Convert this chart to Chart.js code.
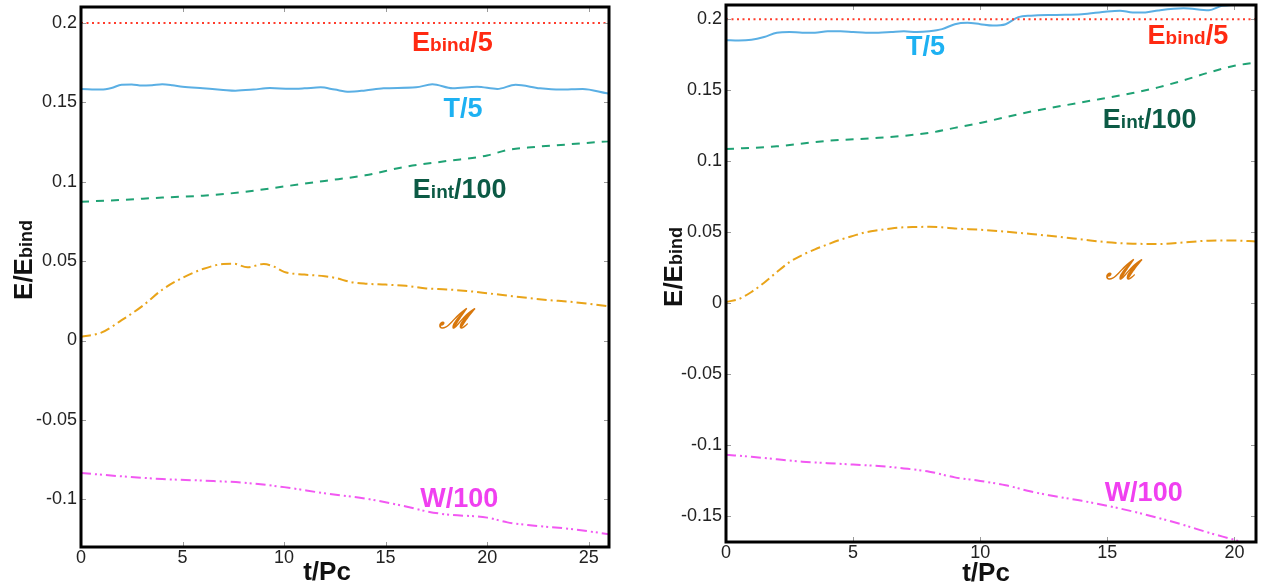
<!DOCTYPE html>
<html>
<head>
<meta charset="utf-8">
<script src="https://cdn.jsdelivr.net/npm/chart.js@4.4.0/dist/chart.umd.min.js"></script>
<style>
    html, body { margin: 0; padding: 0; background: #fff; }
    #wrap { position: relative; width: 1278px; height: 584px; }
    canvas { position: absolute; top: 0; }
    #chartLeft { left: 0; }
    #chartRight { left: 640px; }
</style>
</head>
<body>
<div id="wrap">
    <canvas id="chartLeft" width="640" height="584"></canvas>
    <canvas id="chartRight" width="638" height="584"></canvas>
</div>
<script>
// Datos (t/Pc , E/Ebind)

// Panel izquierdo
const leftBindT = [0, 26];
const leftBindV = [0.2, 0.2];

const leftKinT = [0, 1, 1.5, 2, 2.5, 3, 3.5, 4, 4.5, 5, 6, 7, 7.6, 8.5, 9.3, 10.3, 11, 11.8, 12.5, 13.2, 14, 14.9, 16.5, 17.3, 18.3, 19.5, 20.5, 21.4, 22.6, 23.6, 24.7, 25.9, 26];
const leftKinV = [0.1584, 0.158, 0.159, 0.161, 0.1612, 0.1605, 0.1608, 0.1614, 0.1608, 0.1598, 0.1588, 0.1578, 0.1573, 0.158, 0.159, 0.1585, 0.1588, 0.1594, 0.158, 0.1567, 0.1575, 0.1588, 0.1594, 0.1613, 0.1588, 0.1598, 0.1584, 0.161, 0.1588, 0.158, 0.1584, 0.1557, 0.1555];

const leftIntT = [0, 2, 4, 6, 8, 10, 12, 14, 16, 18, 20, 21, 22, 24, 26];
const leftIntV = [0.0874, 0.0885, 0.090, 0.0912, 0.0935, 0.097, 0.1005, 0.104, 0.1095, 0.113, 0.1165, 0.120, 0.1215, 0.1235, 0.1255];

const leftMagT = [0, 1, 2, 3, 4, 5, 6, 7, 7.5, 8.2, 9, 9.5, 10, 11, 12, 12.5, 13.3, 14, 15, 16, 17, 18, 19, 20, 21, 22, 23, 24, 25, 26];
const leftMagV = [0.0024, 0.005, 0.0128, 0.0215, 0.032, 0.0395, 0.045, 0.0482, 0.0484, 0.0461, 0.0482, 0.0465, 0.0432, 0.0415, 0.0405, 0.0395, 0.0368, 0.0358, 0.0352, 0.0345, 0.0328, 0.0322, 0.0312, 0.0298, 0.0283, 0.0268, 0.0255, 0.0245, 0.0232, 0.0215];

const leftGravT = [0, 2, 4, 6, 8, 10, 12, 14, 16, 17, 18, 20, 21, 22, 24, 26];
const leftGravV = [-0.0834, -0.0855, -0.0872, -0.0882, -0.0895, -0.0923, -0.0962, -0.0995, -0.1045, -0.1075, -0.1095, -0.1115, -0.1145, -0.1162, -0.1185, -0.1219];

// Panel derecho
const rightBindT = [0, 20.85];
const rightBindV = [0.2, 0.2];

const rightKinT = [0, 0.5, 1, 1.5, 2, 2.5, 3, 3.5, 4, 4.5, 5, 5.5, 6, 6.5, 7, 7.5, 8, 8.5, 9, 9.5, 10, 10.5, 11, 11.5, 12, 13, 14, 15, 15.5, 16, 16.5, 17, 18, 19, 19.5, 20, 20.85];
const rightKinV = [0.1852, 0.185, 0.1855, 0.1875, 0.1905, 0.191, 0.1905, 0.1905, 0.1915, 0.1915, 0.191, 0.1905, 0.1905, 0.191, 0.1915, 0.191, 0.1915, 0.193, 0.1965, 0.1975, 0.1965, 0.1955, 0.1965, 0.2015, 0.2025, 0.203, 0.2035, 0.2055, 0.206, 0.2048, 0.2048, 0.2062, 0.2077, 0.2063, 0.2094, 0.2102, 0.2105];

const rightIntT = [0, 2, 4, 6, 8, 9, 10, 12, 14, 16, 17, 18, 19, 20, 20.85];
const rightIntV = [0.1086, 0.1105, 0.1144, 0.1165, 0.1200, 0.1235, 0.127, 0.1350, 0.1415, 0.148, 0.152, 0.157, 0.1625, 0.1672, 0.1695];

const rightMagT = [0, 0.5, 1, 1.5, 2, 2.5, 3, 3.5, 4, 4.5, 5, 5.5, 6, 6.5, 7, 7.5, 8, 8.5, 9, 10, 11, 12, 13, 14, 15, 16, 17, 18, 19, 20, 20.85];
const rightMagV = [0.001, 0.003, 0.008, 0.0145, 0.022, 0.029, 0.034, 0.038, 0.0415, 0.0448, 0.0475, 0.050, 0.0515, 0.0527, 0.0535, 0.0537, 0.0539, 0.0535, 0.0527, 0.0518, 0.0505, 0.0488, 0.047, 0.045, 0.043, 0.042, 0.0418, 0.0428, 0.0441, 0.0442, 0.0436];

const rightGravT = [0, 1, 2, 3, 4, 5, 6, 7, 8, 9, 10, 11, 12, 13, 14, 15, 16, 17, 18, 19, 20, 20.85];
const rightGravV = [-0.1066, -0.108, -0.1098, -0.1115, -0.1125, -0.1135, -0.1145, -0.1162, -0.1185, -0.1225, -0.125, -0.128, -0.1325, -0.136, -0.139, -0.1425, -0.1465, -0.151, -0.156, -0.1615, -0.1665, -0.171];

const FONT = '"Liberation Sans", Arial, Helvetica, sans-serif';

const toPoints = (ts, vs) => ts.map((t, i) => ({ x: t, y: vs[i] }));

// Estilos de cada curva
const lineStyle = (color, dash, width = 2) => ({
    borderColor: color,
    borderWidth: width,
    borderDash: dash,
    pointRadius: 0,
    fill: false,
    cubicInterpolationMode: 'monotone'
});

// Texto con partes de distinto tamaño (subindices)
const richText = (ctx, parts, x, y, color) => {
    let w = 0;
    parts.forEach(p => {
        ctx.font = `${p.style || 'bold'} ${p.size}px ${p.family || FONT}`;
        p.w = ctx.measureText(p.text).width;
        w += p.w;
    });
    let x0 = x - w / 2;
    ctx.fillStyle = color;
    ctx.textAlign = 'left';
    ctx.textBaseline = 'alphabetic';
    parts.forEach(p => {
        ctx.font = `${p.style || 'bold'} ${p.size}px ${p.family || FONT}`;
        ctx.fillText(p.text, x0, y);
        x0 += p.w;
    });
};

const bindParts = [{ text: 'E', size: 27 }, { text: 'bind', size: 19 }, { text: '/5', size: 27 }];
const kinParts = [{ text: 'T/5', size: 27 }];
const intParts = [{ text: 'E', size: 27 }, { text: 'int', size: 19 }, { text: '/100', size: 27 }];
const magParts = [{ text: 'ℳ', size: 27, style: 'italic bold', family: '"DejaVu Serif", serif' }];
const gravParts = [{ text: 'W/100', size: 27 }];

// Marco, marcas interiores, etiquetas y titulos
const decorPlugin = {
    id: 'decor',
    afterDatasetsDraw(chart, args, opts) {
        const { ctx, chartArea: a, scales: { x, y } } = chart;
        ctx.save();
        ctx.strokeStyle = '#9a9a9a';
        ctx.lineWidth = 1;
        ctx.beginPath();
        x.ticks.forEach(t => {
            const px = Math.round(x.getPixelForValue(t.value)) + 0.5;
            ctx.moveTo(px, a.bottom); ctx.lineTo(px, a.bottom - 5);
            ctx.moveTo(px, a.top); ctx.lineTo(px, a.top + 5);
        });
        y.ticks.forEach(t => {
            const py = Math.round(y.getPixelForValue(t.value)) + 0.5;
            ctx.moveTo(a.left, py); ctx.lineTo(a.left + 5, py);
            ctx.moveTo(a.right, py); ctx.lineTo(a.right - 5, py);
        });
        ctx.stroke();

        ctx.strokeStyle = '#000';
        ctx.lineWidth = 3;
        ctx.strokeRect(a.left, a.top, a.right - a.left, a.bottom - a.top);

        opts.labels.forEach(l => {
            richText(ctx, l.parts, x.getPixelForValue(l.t), y.getPixelForValue(l.v), l.color);
        });

        // titulo eje x
        richText(ctx, [{ text: 't/Pc', size: 26 }], opts.xTitle.x, opts.xTitle.y, '#111');
        // titulo eje y (rotado)
        ctx.translate(opts.yTitle.x, opts.yTitle.y);
        ctx.rotate(-Math.PI / 2);
        richText(ctx, [{ text: 'E/E', size: 26 }, { text: 'bind', size: 18 }], 0, 0, '#111');
        ctx.restore();
    }
};

const fixAxis = (size) => (scale) => {
    if (scale.isHorizontal()) scale.height = size; else scale.width = size;
    scale.paddingTop = 0; scale.paddingBottom = 0;
    scale.paddingLeft = 0; scale.paddingRight = 0;
};

const tickFont = { family: FONT, size: 18 };
const fmt = v => String(Number(v.toFixed(2)));

const confChart = (c) => ({
    type: 'line',
    data: {
        datasets: [
            { data: toPoints(c.bindT, c.bindV), ...lineStyle('#ff3b2b', [2, 3.5], 2) },
            { data: toPoints(c.kinT, c.kinV), ...lineStyle('#5aafe4', [], 2) },
            { data: toPoints(c.intT, c.intV), ...lineStyle('#1fa274', [8, 7], 2) },
            { data: toPoints(c.magT, c.magV), ...lineStyle('#e9a419', [10, 4, 2, 4], 2) },
            { data: toPoints(c.gravT, c.gravV), ...lineStyle('#f258f2', [10, 4, 2, 3, 2, 4], 2) }
        ]
    },
    options: {
        responsive: false,
        animation: false,
        layout: { padding: c.padding },
        plugins: {
            legend: { display: false },
            tooltip: { enabled: false },
            decor: { labels: c.labels, xTitle: c.xTitle, yTitle: c.yTitle }
        },
        scales: {
            x: {
                type: 'linear',
                min: 0,
                max: c.xMax,
                grid: { display: false, drawTicks: false },
                border: { display: false },
                ticks: { stepSize: 5, includeBounds: false, autoSkip: false, maxRotation: 0, padding: 0, color: '#222', font: tickFont, callback: fmt },
                afterFit: fixAxis(c.xAxisH)
            },
            y: {
                type: 'linear',
                min: c.yMin,
                max: c.yMax,
                grid: { display: false, drawTicks: false },
                border: { display: false },
                ticks: { stepSize: 0.05, includeBounds: false, autoSkip: false, padding: 4, color: '#222', font: tickFont, callback: fmt },
                afterFit: fixAxis(c.yAxisW)
            }
        }
    },
    plugins: [decorPlugin]
});

const leftChart = new Chart(document.getElementById('chartLeft'), confChart({
    bindT: leftBindT, bindV: leftBindV, kinT: leftKinT, kinV: leftKinV,
    intT: leftIntT, intV: leftIntV, magT: leftMagT, magV: leftMagV,
    gravT: leftGravT, gravV: leftGravV,
    xMax: 26, yMin: -0.13, yMax: 0.21,
    padding: { left: 0, right: 31, top: 7, bottom: 0 },
    xAxisH: 37, yAxisW: 81,
    xTitle: { x: 327, y: 580 },
    yTitle: { x: 32, y: 260 },
    labels: [
        { parts: bindParts, t: 18.29, v: 0.1825, color: '#ff2a12' },
        { parts: kinParts, t: 18.81, v: 0.1406, color: '#1db1f2' },
        { parts: intParts, t: 18.65, v: 0.0895, color: '#0c5a45' },
        { parts: magParts, t: 18.41, v: 0.0077, color: '#d8770c' },
        { parts: gravParts, t: 18.63, v: -0.105, color: '#f040f0' }
    ]
}));

const rightChart = new Chart(document.getElementById('chartRight'), confChart({
    bindT: rightBindT, bindV: rightBindV, kinT: rightKinT, kinV: rightKinV,
    intT: rightIntT, intV: rightIntV, magT: rightMagT, magV: rightMagV,
    gravT: rightGravT, gravV: rightGravV,
    xMax: 20.85, yMin: -0.168, yMax: 0.21,
    padding: { left: 0, right: 22, top: 5, bottom: 0 },
    xAxisH: 42, yAxisW: 86,
    xTitle: { x: 346, y: 581 },
    yTitle: { x: 42, y: 267 },
    labels: [
        { parts: kinParts, t: 7.85, v: 0.1747, color: '#1db1f2' },
        { parts: bindParts, t: 18.17, v: 0.1828, color: '#ff2a12' },
        { parts: intParts, t: 16.67, v: 0.1233, color: '#0c5a45' },
        { parts: magParts, t: 15.57, v: 0.0172, color: '#d8770c' },
        { parts: gravParts, t: 16.43, v: -0.1392, color: '#f040f0' }
    ]
}));
</script>
</body>
</html>
